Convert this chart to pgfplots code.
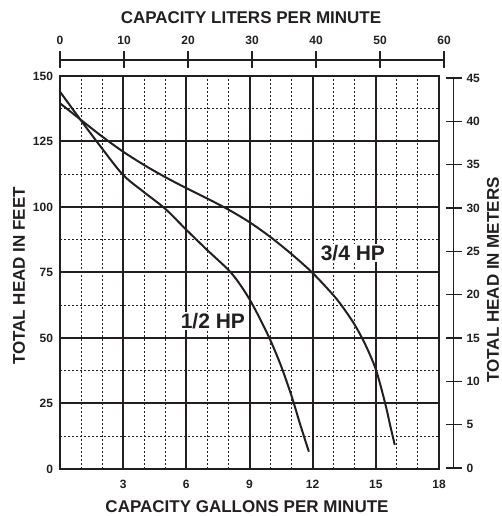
\documentclass[border=0pt]{standalone}
\usepackage{fontspec}
\setmainfont{Liberation Sans}
\usepackage{pgfplots}
\pgfplotsset{compat=1.18}
\definecolor{ink}{HTML}{231F20}
\pgfplotsset{
  chartbox/.style={
    at={(60pt,47pt)}, anchor=south west, scale only axis,
    width=379pt, height=393pt,
    xmin=0, xmax=18, ymin=0, ymax=150,
  },
  lab/.style={font=\bfseries\fontsize{12}{12}\selectfont, text=ink},
}
\begin{document}
\begin{tikzpicture}[x=1pt,y=1pt]
\path[use as bounding box] (0,0) rectangle (501,516);

% dotted minor grid
\begin{axis}[
  chartbox,
  xtick={1,2,4,5,7,8,10,11,13,14,16,17},
  ytick={12.5,37.5,...,137.5},
  xticklabels={}, yticklabels={},
  grid=major,
  major grid style={ink, line width=0.9pt, dash pattern=on 2pt off 2pt},
  axis line style={draw=none},
  major tick length=0pt,
]
\addplot[draw=none] coordinates {(0,0)};
\end{axis}

% main chart: gallons per minute vs feet
\begin{axis}[
  chartbox,
  xtick={3,6,...,18}, ytick={0,25,...,150},
  grid=major,
  major grid style={ink, line width=2pt, solid},
  axis line style={ink, line width=2pt},
  major tick length=0pt,
  tick label style={lab},
  /pgf/number format/assume math mode=true,
  xticklabel style={yshift=-8pt},
  yticklabel style={xshift=-3.5pt},
]
\addplot[ink, line width=2pt, smooth] coordinates {
  (0,144) (1,133) (2,122.3) (3,112.2) (4,105.6) (5,99.3) (6,91.3) (7,83.5)
  (8,76) (8.5,71) (9,64.8) (9.5,57.3) (10,49) (10.5,39.3) (11,27.8)
  (11.4,17.2) (11.82,6.6)
};
\addplot[ink, line width=2pt, smooth] coordinates {
  (0,139.6) (1,133.2) (2,126.9) (3,121.1) (4,116) (5,111.4) (6,107.2)
  (7,103.2) (8,99) (9,94.2) (10,88.5) (11,82) (12,74.8) (13,66.2)
  (13.5,61) (14,55) (14.5,47.5) (15,38) (15.43,25.5) (15.7,16) (15.9,9.2)
};
\node[fill=white, inner sep=1.5pt, text=ink, font=\bfseries\fontsize{21}{21}\selectfont]
  at (axis cs:13.91,82.4) {3/4 HP};
\node[fill=white, inner sep=1.5pt, text=ink, font=\bfseries\fontsize{21}{21}\selectfont]
  at (axis cs:7.26,56.5) {1/2 HP};
\end{axis}

% top scale: liters per minute
\begin{axis}[
  at={(60pt,455pt)}, anchor=south west, scale only axis,
  width=384pt, height=1pt,
  xmin=0, xmax=60, ymin=0, ymax=1,
  axis x line*=top, axis y line=none,
  xtick={0,10,...,60},
  tick align=center, major tick length=17pt,
  axis line style={ink, line width=1.2pt},
  tick style={ink, line width=1.2pt},
  tick label style={lab},
  xticklabel style={yshift=3pt},
  /pgf/number format/assume math mode=true,
]
\addplot[draw=none] coordinates {(0,0)};
\end{axis}

% right scale: meters
\begin{axis}[
  at={(452.5pt,48pt)}, anchor=south west, scale only axis,
  width=1pt, height=390pt,
  xmin=0, xmax=1, ymin=0, ymax=45,
  axis y line*=right, axis x line=none,
  ytick={0,5,...,45},
  tick align=center, major tick length=16pt,
  axis line style={ink, line width=1.2pt},
  tick style={ink, line width=1.2pt},
  tick label style={lab},
  yticklabel style={xshift=1.5pt},
  /pgf/number format/assume math mode=true,
]
\addplot[draw=none] coordinates {(0,0)};
\end{axis}

\begin{scope}[every node/.style={text=ink, inner sep=0pt, font=\bfseries\fontsize{17}{17}\selectfont}]
\node at (251,498) {CAPACITY LITERS PER MINUTE};
\node at (247,9) {CAPACITY GALLONS PER MINUTE};
\node[rotate=90] at (19,240) {TOTAL HEAD IN FEET};
\node[rotate=90] at (493,236) {TOTAL HEAD IN METERS};
\end{scope}
\end{tikzpicture}
\end{document}
